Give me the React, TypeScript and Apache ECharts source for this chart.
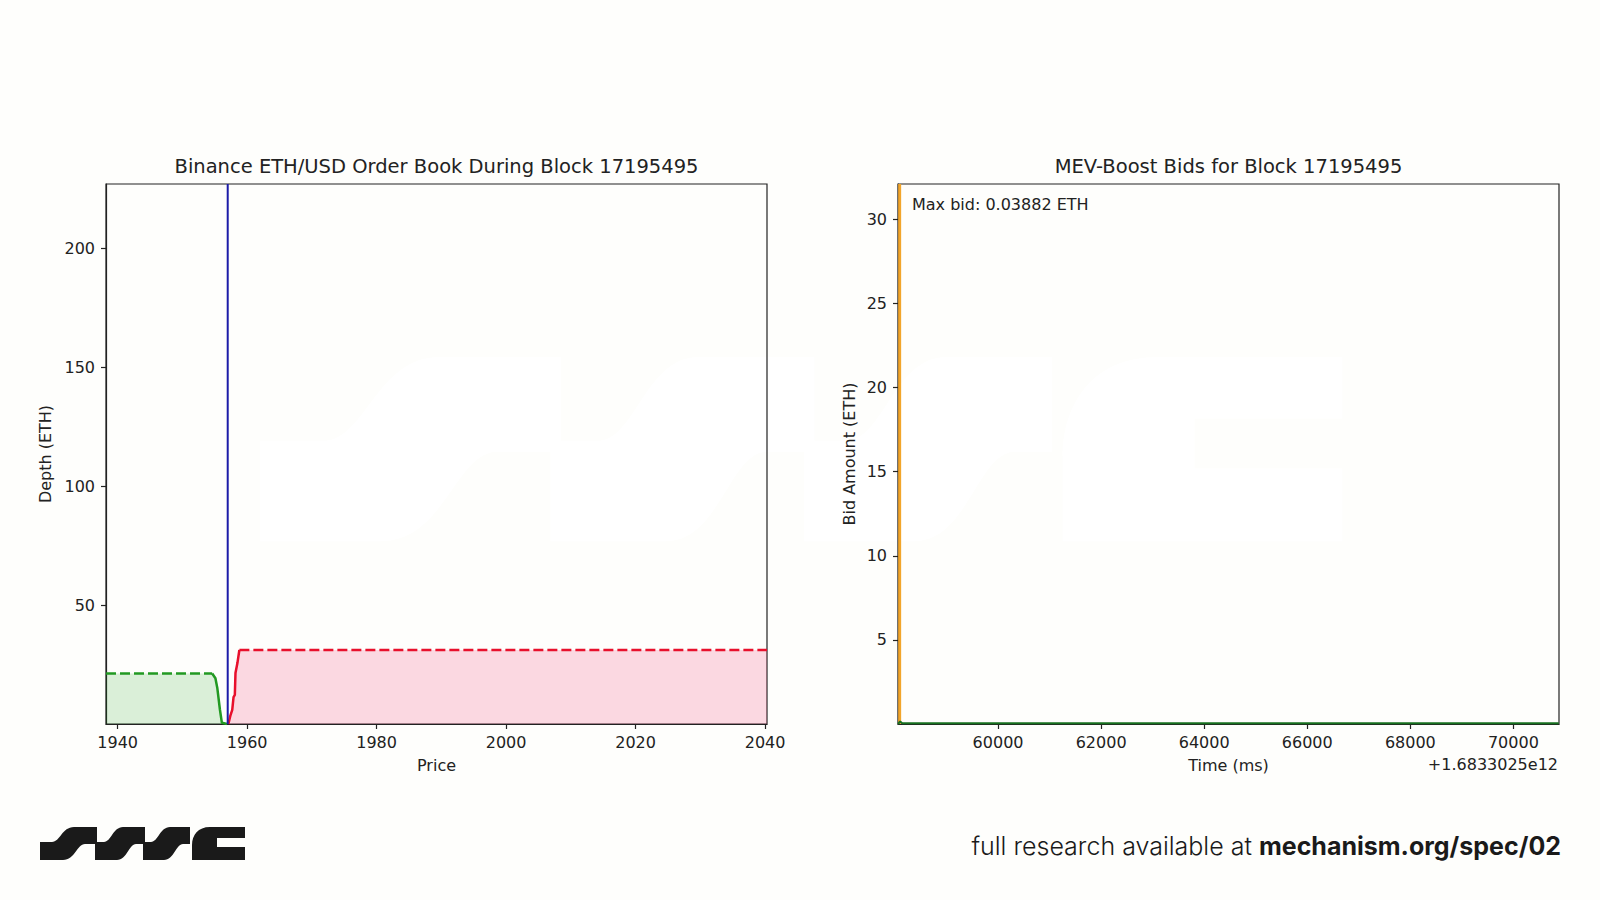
import React, { useEffect, useRef } from "react";
import * as echarts from "echarts";

// ---- Left chart: order book depth ----
const bidDashedPrice = [1938.2, 1954.6];
const bidDashedDepth = [21.2, 21.2];
const bidSolidPrice = [1954.6, 1955.1, 1955.4, 1955.8, 1956.1, 1956.9];
const bidSolidDepth = [21.2, 19.2, 15.0, 6.0, 0.5, 0.0];
const askSolidPrice = [1957.1, 1957.4, 1957.7, 1957.9, 1958.1, 1958.2, 1958.5, 1958.8];
const askSolidDepth = [0.0, 3.4, 5.9, 11.3, 12.2, 21.4, 25.6, 31.1];
const askDashedPrice = [1958.8, 2040.3];
const askDashedDepth = [31.1, 31.1];
const midPrice = 1957.0;
const leftXRange = [1938.2, 2040.3];
const leftYRange = [0, 227];

// ---- Right chart: MEV-Boost bids ----
const bidTimes = [58060, 58100, 58140, 70880];
const bidAmounts = [0.0, 0.15, 0.03882, 0.03882];
const markerTime = 58090;
const rightXRange = [58058, 70885];
const rightYRange = [0, 32.1];

// ---- Texts ----
const leftTitle = "Binance ETH/USD Order Book During Block 17195495";
const rightTitle = "MEV-Boost Bids for Block 17195495";
const maxBidLabel = "Max bid: 0.03882 ETH";
const offsetLabel = "+1.6833025e12";
const footerPlain = "full research available at ";
const footerBold = "mechanism.org/spec/02";

const LOGO_D =
  "M0,33 L0,15 L12,15 C20,15 22,0 34,0 L57,0 L57,17 L45,17 C37,17 35,33 23,33 Z " +
  "M55,33 L55,15 L64,15 C71,15 73,0 83,0 L105,0 L105,17 L96,17 C89,17 87,33 77,33 Z " +
  "M103,33 L103,15 L111,15 C118,15 120,0 130,0 L150,0 L150,17 L143,17 C136,17 134,33 124,33 Z " +
  "M152,33 L152,18 C152,8 158,0 170,0 L205,0 L205,11 L177,11 L177,20 L205,20 L205,33 Z";

echarts.graphic.registerShape("smgLogo", echarts.graphic.extendPath(LOGO_D, {}) as any);

const zip = (xs: number[], ys: number[]) => xs.map((x, i) => [x, ys[i]]);

const FONT = "DejaVu Sans";
const TXT = "#222222";
const BG = "#fefefc";
const TICK_FS = 16;

const GREEN = "#229922";
const GREEN_FILL = "rgba(0,150,0,0.2)";
const RED = "#e8102c";
const RED_FILL = "rgba(240,40,100,0.25)";
const BLUE = "#1c1ca8";

function labelStyle(margin: number) {
  return {
    fontFamily: FONT,
    fontSize: TICK_FS,
    color: TXT,
    showMinLabel: false,
    showMaxLabel: false,
    interval: 0,
    margin,
    formatter: (v: number) => String(v),
  };
}

function axisCommon(extra: any) {
  return {
    type: "value",
    splitLine: { show: false },
    axisLine: { show: true, onZero: false, lineStyle: { color: TXT, width: 1.2 } },
    axisTick: { show: true, length: 5, lineStyle: { color: TXT, width: 1.2 } },
    nameTextStyle: { fontFamily: FONT, fontSize: TICK_FS, color: TXT },
    nameLocation: "middle",
    ...extra,
  };
}

export default function App() {
  const ref = useRef<HTMLDivElement>(null);
  useEffect(() => {
    if (!ref.current) return;
    const chart = echarts.init(ref.current, undefined, { renderer: "svg" });
    const option: any = {
      animation: false,
      backgroundColor: BG,
      grid: [
        { left: 106, top: 184, width: 661, height: 540, show: true, borderColor: TXT, borderWidth: 1.2, backgroundColor: "transparent" },
        { left: 898, top: 184, width: 661, height: 540, show: true, borderColor: TXT, borderWidth: 1.2, backgroundColor: "transparent" },
      ],
      xAxis: [
        axisCommon({
          gridIndex: 0,
          min: leftXRange[0],
          max: leftXRange[1],
          splitNumber: 5,
          name: "Price",
          nameGap: 33,
          axisLabel: labelStyle(10),
        }),
        axisCommon({
          gridIndex: 1,
          min: rightXRange[0],
          max: rightXRange[1],
          splitNumber: 6,
          name: "Time (ms)",
          nameGap: 33,
          axisLabel: labelStyle(10),
        }),
      ],
      yAxis: [
        axisCommon({
          gridIndex: 0,
          min: leftYRange[0],
          max: leftYRange[1],
          splitNumber: 5,
          name: "Depth (ETH)",
          nameGap: 53,
          axisLabel: labelStyle(11),
        }),
        axisCommon({
          gridIndex: 1,
          min: rightYRange[0],
          max: rightYRange[1],
          splitNumber: 6,
          name: "Bid Amount (ETH)",
          nameGap: 41,
          axisLabel: labelStyle(11),
        }),
      ],
      series: [
        {
          type: "line", xAxisIndex: 0, yAxisIndex: 0, symbol: "none",
          data: zip(bidDashedPrice, bidDashedDepth),
          lineStyle: { color: GREEN, width: 2.5, type: [10, 4] },
          areaStyle: { color: GREEN_FILL },
        },
        {
          type: "line", xAxisIndex: 0, yAxisIndex: 0, symbol: "none",
          data: zip(bidSolidPrice, bidSolidDepth),
          lineStyle: { color: GREEN, width: 2.5 },
          areaStyle: { color: GREEN_FILL },
        },
        {
          type: "line", xAxisIndex: 0, yAxisIndex: 0, symbol: "none",
          data: zip(askSolidPrice, askSolidDepth),
          lineStyle: { color: RED, width: 2.5 },
          areaStyle: { color: RED_FILL },
        },
        {
          type: "line", xAxisIndex: 0, yAxisIndex: 0, symbol: "none",
          data: zip(askDashedPrice, askDashedDepth),
          lineStyle: { color: RED, width: 2.5, type: [10, 4] },
          areaStyle: { color: RED_FILL },
        },
        {
          type: "line", xAxisIndex: 0, yAxisIndex: 0, symbol: "none", z: 5,
          data: [[midPrice, leftYRange[0]], [midPrice, leftYRange[1]]],
          lineStyle: { color: BLUE, width: 2 },
        },
        {
          type: "line", xAxisIndex: 1, yAxisIndex: 1, symbol: "none", z: 4,
          data: [[markerTime, rightYRange[0]], [markerTime, rightYRange[1]]],
          lineStyle: { color: "#f2a52a", width: 3 },
        },
        {
          type: "line", xAxisIndex: 1, yAxisIndex: 1, symbol: "none", z: 5,
          data: zip(bidTimes, bidAmounts),
          lineStyle: { color: "#17701f", width: 2 },
        },
      ],
      graphic: [
        {
          type: "smgLogo", x: 260, y: 357, scaleX: 5.28, scaleY: 5.58, z: -10, silent: true,
          style: { fill: "#ffffff" },
        },
        {
          type: "smgLogo", x: 40, y: 827, style: { fill: "#1a1a1a" },
        },
        {
          type: "text", x: 436.5, y: 166,
          style: { text: leftTitle, fontFamily: FONT, fontSize: 19.5, fill: TXT, align: "center", verticalAlign: "middle" },
        },
        {
          type: "text", x: 1228.5, y: 166,
          style: { text: rightTitle, fontFamily: FONT, fontSize: 19.5, fill: TXT, align: "center", verticalAlign: "middle" },
        },
        {
          type: "text", x: 912, y: 204,
          style: { text: maxBidLabel, fontFamily: FONT, fontSize: TICK_FS, fill: TXT, align: "left", verticalAlign: "middle" },
        },
        {
          type: "text", x: 1558, y: 764,
          style: { text: offsetLabel, fontFamily: FONT, fontSize: TICK_FS, fill: TXT, align: "right", verticalAlign: "middle" },
        },
        {
          type: "text", x: 1561, y: 846,
          style: {
            text: "{a|" + footerPlain + "}{b|" + footerBold + "}",
            align: "right",
            verticalAlign: "middle",
            rich: {
              a: { fontFamily: "Inter", fontSize: 25, fontWeight: 300, fill: "#1a1a1a" },
              b: { fontFamily: "Inter", fontSize: 25, fontWeight: 700, fill: "#1a1a1a" },
            },
          },
        },
      ],
    };
    chart.setOption(option);
    return () => chart.dispose();
  }, []);
  return (
    <div
      ref={ref}
      style={{ position: "absolute", left: 0, top: 0, width: 1600, height: 900, background: BG }}
    />
  );
}
